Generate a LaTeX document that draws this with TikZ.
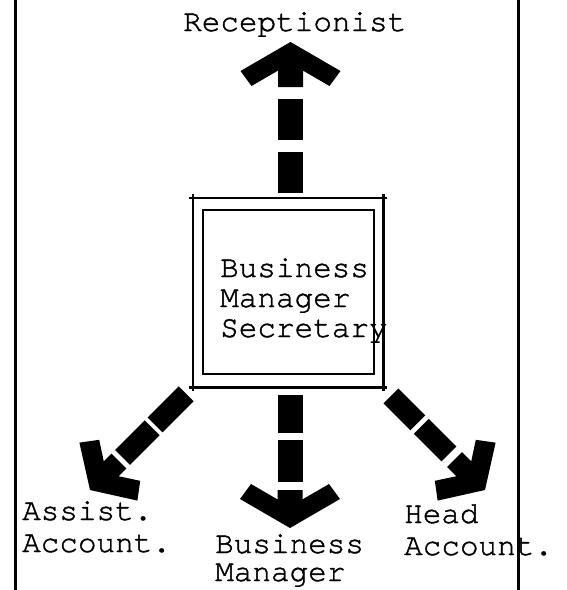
\documentclass[tikz,border=0pt]{standalone}
\usepackage{fontspec}
\newfontfamily\tw[FakeBold=1.3]{TeX Gyre Cursor}
\newcommand\bigheadV[1]{\fill (0,0) -- (-29,50) -- (-44,39) -- (-28.6,12.5) -- (-#1,12.5) -- (-#1,-12.5) -- (-28.6,-12.5) -- (-44,-39) -- (-29,-50) -- cycle;}
\newcommand\bigheadD[1]{\fill (0,0) -- (-26,41) -- (-42,29) -- (-30,10.5) -- (-#1,10.5) -- (-#1,-10.5) -- (-30,-10.5) -- (-42,-29) -- (-26,-41) -- cycle;}
\newcommand\segV[2]{\fill (-#1,-12.5) rectangle (-#2,12.5);}
\newcommand\segD[2]{\fill (-#1,-10.5) rectangle (-#2,10.5);}
\begin{document}
\begin{tikzpicture}[x=1pt,y=-1pt,
  lbl/.style={inner sep=0pt, anchor=base west, align=left, font=\tw\fontsize{31}{32}\selectfont},
  frameline/.style={line width=3pt},
  outerline/.style={line width=2.6pt},
  innerline/.style={line width=1.8pt}]
\useasboundingbox (0,0) rectangle (566,590);
\fill[white] (0,0) rectangle (566,590);
% side lines
\draw[frameline] (15,0) -- (15,590);
\draw[frameline] (518,0) -- (518,590);
% central box
\node[minimum width=190pt, minimum height=189pt, inner sep=0pt] (box) at (288,292.5) {};
\draw[outerline] ([xshift=-4pt]box.north west) -- ([xshift=4pt]box.north east);
\draw[outerline] ([xshift=-4pt]box.south west) -- ([xshift=4pt]box.south east);
\draw[outerline] ([yshift=4pt]box.north west) -- ([yshift=-4pt]box.south west);
\draw[outerline] ([yshift=4pt]box.north east) -- ([yshift=-4pt]box.south east);
\draw[innerline] ([xshift=10pt,yshift=-12pt]box.north west) rectangle ([xshift=-9pt,yshift=13pt]box.south east);
% texts (anchor base = baseline of the last line)
\node[lbl, font=\tw\fontsize{31}{30}\selectfont] (boxtext) at (220,337) {Business\\Manager\\Secretary};
\node[lbl] (recep) at (183,31) {Receptionist};
\node[lbl] (assist) at (22,552) {Assist.\\Account.};
\node[lbl, font=\tw\fontsize{31}{28}\selectfont] (bm) at (215,581) {Business\\Manager};
\node[lbl] (head) at (404,555) {Head\\Account.};
% arrow tips
\coordinate (tipUp) at (290.5,42);
\coordinate (tipDown) at (290,528);
\coordinate (tipLeft) at (90,490);
\coordinate (tipRight) at (485,490);
% up arrow
\begin{scope}[shift={(tipUp)}, rotate=90]
  \bigheadV{45}
  \segV{57}{98}
  \segV{110}{151}
\end{scope}
% down arrow
\begin{scope}[shift={(tipDown)}, rotate=270]
  \bigheadV{38}
  \segV{46}{88}
  \segV{95}{133}
\end{scope}
% down-left arrow
\begin{scope}[shift={(tipLeft)}, rotate=225]
  \bigheadD{41}
  \segD{46}{88}
  \segD{92}{136}
\end{scope}
% down-right arrow
\begin{scope}[shift={(tipRight)}, rotate=315]
  \bigheadD{43}
  \segD{51}{90}
  \segD{95}{133}
\end{scope}
\end{tikzpicture}
\end{document}
